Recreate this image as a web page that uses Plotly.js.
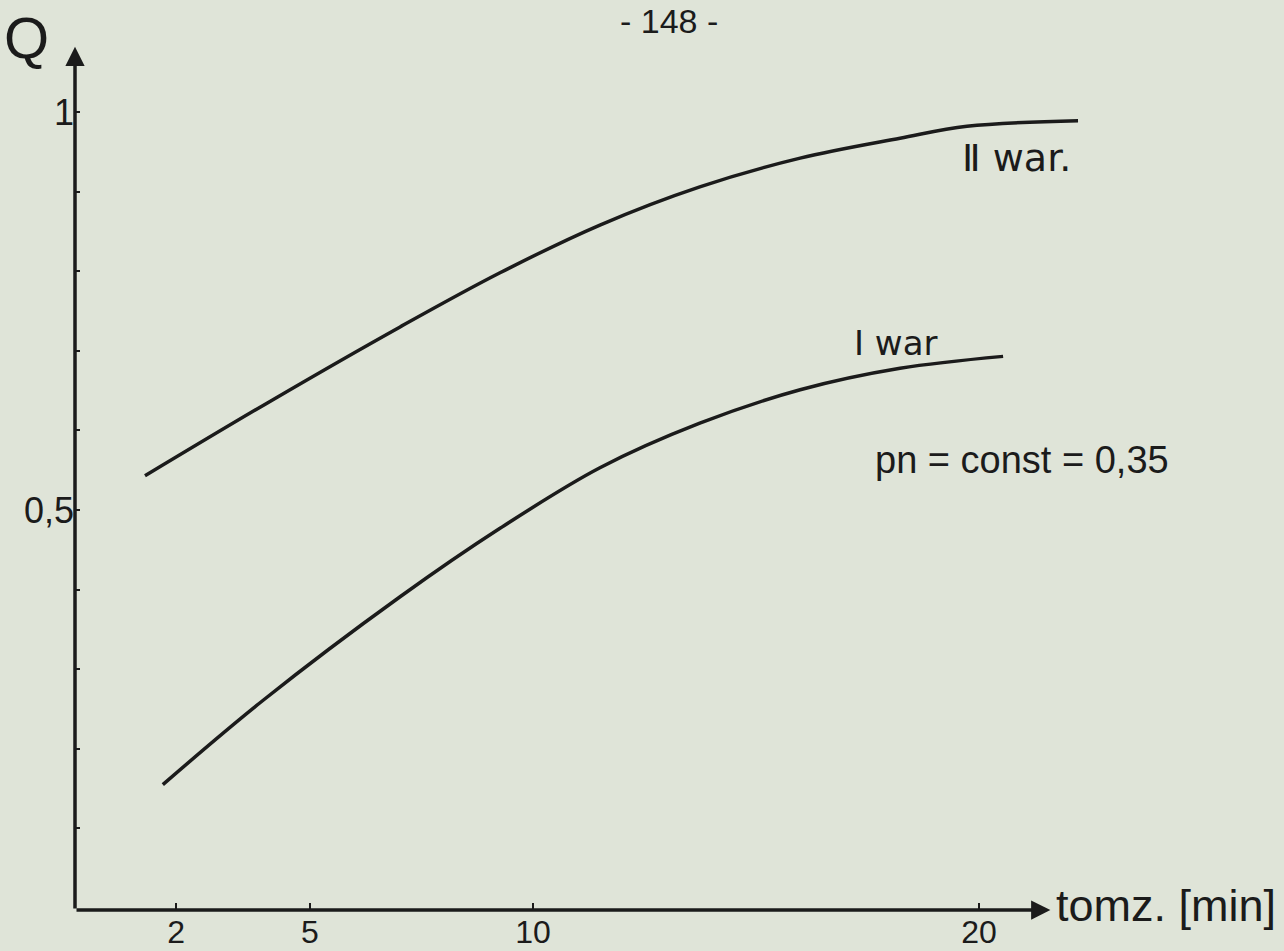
<!DOCTYPE html>
<html>
<head>
<meta charset="utf-8">
<script src="https://cdn.plot.ly/plotly-3.0.1.min.js"></script>
<style>html,body{margin:0;padding:0;background:#dfe4d8;}</style>
</head>
<body>
<div id="chart" style="width:1284px;height:951px;"></div>
<script>
// ---- data ----
const t_II = [1.30, 4.15, 7.02, 9.26, 11.50, 13.74, 15.99, 18.23, 19.73, 22.22];
const Q_II = [0.543, 0.638, 0.730, 0.798, 0.858, 0.906, 0.942, 0.967, 0.982, 0.989];
const t_I  = [1.70, 3.95, 7.02, 9.26, 11.50, 13.74, 15.99, 18.23, 20.54];
const Q_I  = [0.155, 0.261, 0.391, 0.477, 0.553, 0.609, 0.651, 0.678, 0.693];
const xTickVals = [2, 5, 10, 20];
const xTickText = ["2", "5", "10", "20"];
const yTickVals = [0.1, 0.2, 0.3, 0.4, 0.5, 0.6, 0.7, 0.8, 0.9, 1.0];
const yTickText = ["", "", "", "", "0,5", "", "", "", "", "1"];

// ---- layout geometry ----
const W = 1284, H = 951;
const M = {l: 75, r: 150, t: 30, b: 41};
const plotW = W - M.l - M.r, plotH = H - M.t - M.b;
const xRange = [-0.269, 23.475];
const yRange = [-0.0025, 1.103];
const px = x => (x - M.l) / plotW;
const py = y => 1 - (y - M.t) / plotH;

const ink = "#1b1b1b";
const font = "Liberation Sans, DejaVu Sans, sans-serif";
const fontDV = "DejaVu Sans, sans-serif";

const traces = [
  {x: t_II, y: Q_II, mode: "lines", line: {color: ink, width: 3.5, shape: "spline", smoothing: 1}, hoverinfo: "skip"},
  {x: t_I,  y: Q_I,  mode: "lines", line: {color: ink, width: 3.5, shape: "spline", smoothing: 1}, hoverinfo: "skip"}
];

function label(text, x, y, size, anchor, fam) {
  return {text: text, xref: "paper", yref: "paper", x: px(x), y: py(y),
          xanchor: anchor || "center", yanchor: "middle", showarrow: false,
          font: {family: fam || font, size: size, color: ink}};
}

const layout = {
  width: W, height: H,
  margin: M,
  paper_bgcolor: "#dfe4d8",
  plot_bgcolor: "rgba(0,0,0,0)",
  showlegend: false,
  xaxis: {range: xRange, showgrid: false, zeroline: false, showline: false,
          tickmode: "array", tickvals: xTickVals, ticktext: xTickText,
          ticks: "inside", ticklen: 7, tickwidth: 2.5, tickcolor: ink,
          tickfont: {family: font, size: 32, color: ink}},
  yaxis: {range: yRange, showgrid: false, zeroline: false, showline: false,
          tickmode: "array", tickvals: yTickVals, ticktext: yTickText,
          ticks: "inside", ticklen: 5, tickwidth: 2, tickcolor: ink,
          tickfont: {family: font, size: 36, color: ink}},
  annotations: [
    // axes with arrow heads
    {x: 21.6, y: yRange[0], ax: xRange[0], ay: yRange[0], xref: "x", yref: "y", axref: "x", ayref: "y",
     text: "", showarrow: true, arrowhead: 2, arrowsize: 1.1, arrowwidth: 3.5, arrowcolor: ink, standoff: 0, startstandoff: 0},
    {x: xRange[0], y: 1.082, ax: xRange[0], ay: yRange[0], xref: "x", yref: "y", axref: "x", ayref: "y",
     text: "", showarrow: true, arrowhead: 2, arrowsize: 1.1, arrowwidth: 3.5, arrowcolor: ink, standoff: 0, startstandoff: 0},
    label("- 148 -", 669, 21, 34),
    label("Q", 26, 38, 58),
    label("tomz. [min]", 1054, 905, 45, "left"),
    label("Ⅱ war.", 1016, 158, 38, "center", fontDV),
    label("Ⅰ war", 895, 343, 34, "center", fontDV),
    label("pn = const = 0,35", 1022, 460, 38)
  ]
};

Plotly.newPlot("chart", traces, layout, {staticPlot: true, displayModeBar: false});
</script>
</body>
</html>
